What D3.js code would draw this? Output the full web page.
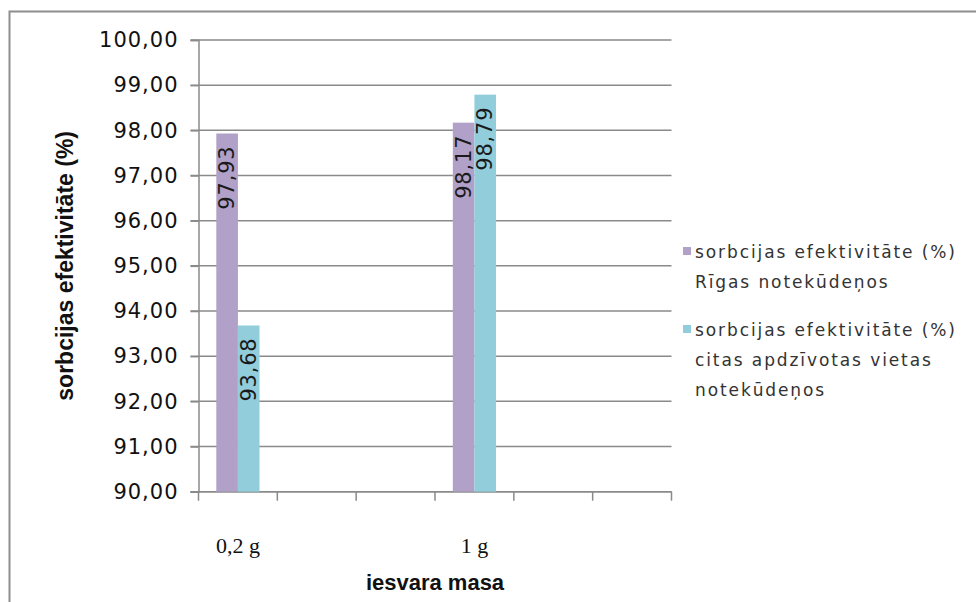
<!DOCTYPE html>
<html>
<head>
<meta charset="utf-8">
<script src="https://cdn.jsdelivr.net/npm/d3@7"></script>
<style>
  html, body { margin: 0; padding: 0; background: #fff; }
  svg { display: block; }
</style>
</head>
<body>
<svg id="chart" width="976" height="602"></svg>
<script>
// Category slots along the x axis (only two carry data)
const categories = ["0,2 g", "", "", "1 g", "", ""];
// Sorption efficiency, %, per category slot
const rigaValues  = [97.93, null, null, 98.17, null, null];
const otherValues = [93.68, null, null, 98.79, null, null];
const seriesNames = [
  ["sorbcijas efektivitāte (%)", "Rīgas notekūdeņos"],
  ["sorbcijas efektivitāte (%)", "citas apdzīvotas vietas", "notekūdeņos"]
];
const yTicks = [90, 91, 92, 93, 94, 95, 96, 97, 98, 99, 100];
const yTitle = "sorbcijas efektivitāte (%)";
const xTitle = "iesvara masa";

const colors = ["#b1a0c7", "#92cddc"];
const fmt = v => d3.format(".2f")(v).replace(".", ",");

const svg = d3.select("#chart");

// outer chart frame
svg.append("rect")
  .attr("x", 9.5).attr("y", 11.5)
  .attr("width", 1000).attr("height", 700)
  .attr("fill", "#fff")
  .attr("stroke", "#8e8e8e").attr("stroke-width", 2);

const plot = { left: 198.5, right: 671.5, top: 40, bottom: 491.7 };

const y = d3.scaleLinear().domain([90, 100]).range([plot.bottom, plot.top]);
const x = d3.scaleBand().domain(d3.range(categories.length))
  .range([plot.left, plot.right]).paddingInner(0).paddingOuter(0);
const xs = d3.scaleBand().domain([0, 1]).range([0, x.bandwidth()])
  .paddingInner(0).paddingOuter(0.825);

// horizontal gridlines
svg.append("g").selectAll("line").data(yTicks).join("line")
  .attr("x1", plot.left - 8).attr("x2", plot.right)
  .attr("y1", d => y(d)).attr("y2", d => y(d))
  .attr("stroke", "#8a8a8a").attr("stroke-width", 1.5);

// y axis
const yAxis = svg.append("g")
  .attr("transform", `translate(${plot.left},0)`)
  .call(d3.axisLeft(y).tickValues(yTicks).tickFormat(fmt).tickSize(8).tickPadding(12));
yAxis.select(".domain").attr("stroke", "#8a8a8a").attr("stroke-width", 1.5);
yAxis.selectAll(".tick line").attr("stroke", "#8a8a8a").attr("stroke-width", 1.5);
yAxis.selectAll("text")
  .attr("font-family", "DejaVu Sans").attr("font-size", 21)
  .attr("letter-spacing", 1).attr("fill", "#111");

// x axis: ticks at slot boundaries, labels at slot centres
const xAxisG = svg.append("g").attr("transform", `translate(0,${plot.bottom})`);
xAxisG.append("line")
  .attr("x1", plot.left).attr("x2", plot.right)
  .attr("stroke", "#8a8a8a").attr("stroke-width", 1.5);
const bounds = d3.range(categories.length + 1).map(i => plot.left + i * x.step());
xAxisG.selectAll("line.tk").data(bounds).join("line").attr("class", "tk")
  .attr("x1", d => d).attr("x2", d => d).attr("y1", 0).attr("y2", 9)
  .attr("stroke", "#8a8a8a").attr("stroke-width", 1.5);
xAxisG.selectAll("text").data(categories.map((c, i) => ({ c, i })).filter(d => d.c))
  .join("text")
  .attr("x", d => x(d.i) + x.bandwidth() / 2).attr("y", 61)
  .attr("text-anchor", "middle")
  .attr("font-family", "Liberation Serif").attr("font-size", 22)
  .attr("fill", "#111")
  .text(d => d.c);

// bars
const series = [rigaValues, otherValues];
series.forEach((vals, s) => {
  const pts = vals.map((v, i) => ({ v, i })).filter(d => d.v != null);
  svg.append("g").selectAll("rect").data(pts).join("rect")
    .attr("x", d => x(d.i) + xs(s))
    .attr("width", xs.bandwidth())
    .attr("y", d => y(d.v))
    .attr("height", d => y(90) - y(d.v))
    .attr("fill", colors[s]);
  // value labels, rotated, inside the bar end
  svg.append("g").selectAll("text").data(pts).join("text")
    .attr("transform", d => `translate(${x(d.i) + xs(s) + xs.bandwidth() / 2},${y(d.v) + 12}) rotate(-90)`)
    .attr("text-anchor", "end")
    .attr("dominant-baseline", "central")
    .attr("font-family", "DejaVu Sans").attr("font-size", 21)
    .attr("letter-spacing", 0.8)
    .attr("fill", "#1a1a1a")
    .text(d => fmt(d.v));
});

// axis titles
svg.append("text")
  .attr("transform", `translate(65,${(plot.top + plot.bottom) / 2}) rotate(-90)`)
  .attr("text-anchor", "middle").attr("dominant-baseline", "central")
  .attr("font-family", "Liberation Sans").attr("font-weight", "bold")
  .attr("font-size", 23).attr("fill", "#111")
  .text(yTitle);
svg.append("text")
  .attr("x", (plot.left + plot.right) / 2).attr("y", 590)
  .attr("text-anchor", "middle")
  .attr("font-family", "Liberation Sans").attr("font-weight", "bold")
  .attr("font-size", 22).attr("fill", "#111")
  .text(xTitle);

// legend
const legendTop = [252, 330];
const legend = svg.append("g");
seriesNames.forEach((lines, s) => {
  legend.append("rect")
    .attr("x", 683).attr("y", legendTop[s] - 5)
    .attr("width", 8).attr("height", 8)
    .attr("fill", colors[s]);
  lines.forEach((ln, k) => {
    legend.append("text")
      .attr("x", 695).attr("y", legendTop[s] + k * 30)
      .attr("dominant-baseline", "central")
      .attr("font-family", "DejaVu Sans").attr("font-size", 17)
      .attr("letter-spacing", 1.9).attr("fill", "#333")
      .text(ln);
  });
});
</script>
</body>
</html>
